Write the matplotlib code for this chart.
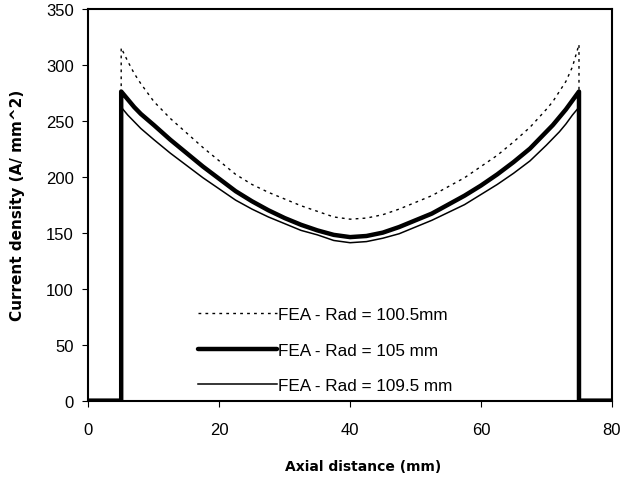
import numpy as np
import matplotlib.pyplot as plt

plt.rcParams['font.family'] = ['Liberation Sans', 'DejaVu Sans']

# axial position (mm) and current density (A/mm^2)
x_pos = [0, 5, 5, 6, 7, 8, 9, 10, 12.5, 15, 17.5, 20, 22.5, 25, 27.5, 30, 32.5, 35, 37.5, 40,
         42.5, 45, 47.5, 50, 52.5, 55, 57.5, 60, 62.5, 65, 67.5, 70, 71, 72, 73, 74, 75, 75, 80]
rad_100_5 = [0, 0, 315, 303, 292, 283, 275, 267, 252, 239, 226, 214, 202, 193, 186, 180, 174, 169, 164, 162,
             163, 166, 171, 177, 183, 191, 199, 209, 219, 231, 244, 260, 267, 276, 285, 298, 318, 0, 0]
rad_105 = [0, 0, 276, 269, 262, 256, 251, 246, 233, 221, 209, 198, 187, 178, 170, 163, 157, 152, 148, 146,
           147, 150, 155, 161, 167, 175, 183, 192, 202, 213, 225, 240, 246, 253, 260, 268, 276, 0, 0]
rad_109_5 = [0, 0, 262, 255, 249, 243, 238, 233, 221, 210, 199, 189, 179, 171, 164, 158, 152, 148, 143, 141,
             142, 145, 149, 155, 161, 168, 175, 184, 193, 203, 214, 228, 234, 240, 247, 255, 262, 0, 0]

labels = ['FEA - Rad = 100.5mm', 'FEA - Rad = 105 mm', 'FEA - Rad = 109.5 mm']

fig = plt.figure(figsize=(6.21, 4.81), dpi=100)
ax = fig.add_axes([0.1425, 0.165, 0.8425, 0.815])

ax.plot(x_pos, rad_100_5, color='black', linewidth=1.0, linestyle=(0, (2, 3)), label=labels[0])
ax.plot(x_pos, rad_105, color='black', linewidth=3.2, solid_capstyle='round', label=labels[1])
ax.plot(x_pos, rad_109_5, color='black', linewidth=1.1, label=labels[2])

ax.set_xlim(0, 80)
ax.set_ylim(0, 350)
ax.set_xticks(np.arange(0, 81, 20))
ax.set_yticks(np.arange(0, 351, 50))
ax.tick_params(direction='out', length=4.5, width=0.8, labelsize=12, colors='black')
ax.tick_params(axis='x', pad=11)
ax.tick_params(axis='y', pad=6)
for s in ax.spines.values():
    s.set_linewidth(1.5)

ax.set_xlabel('Axial distance (mm)', fontsize=10, fontweight='bold', family='DejaVu Sans')
ax.set_ylabel('Current density (A/ mm^2)', fontsize=11, fontweight='bold', family='DejaVu Sans')
ax.xaxis.set_label_coords(0.525, -0.148)
ax.yaxis.set_label_coords(-0.122, 0.5)

leg = ax.legend(loc='lower left', bbox_to_anchor=(0.18, -0.02), frameon=False, fontsize=12.3,
                handlelength=4.6, handletextpad=0.1, labelspacing=1.2)

fig.savefig('out.png', dpi=100)
